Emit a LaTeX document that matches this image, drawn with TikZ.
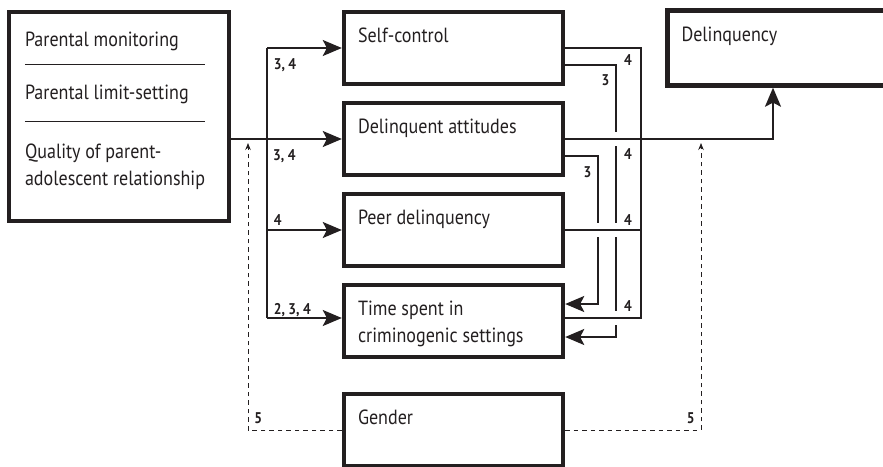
\documentclass[tikz,border=0pt]{standalone}
\usepackage{fontspec}
\setmainfont[FakeStretch=0.88]{PT Sans}
\usepackage{tikz}
\usetikzlibrary{arrows.meta, positioning}
\definecolor{ink}{HTML}{231F20}

\begin{document}
\begin{tikzpicture}[x=1pt, y=-1pt, node distance=91pt, on grid,
        >={Stealth[length=19pt, width=16pt, inset=4pt]},
        box/.style={draw=ink, line width=4.4pt, minimum width=219pt, minimum height=72pt,
            inner sep=0pt, label={[boxtext]north west:{#1}}},
        boxtext/.style={anchor=north west, align=left, inner sep=0pt, xshift=16pt, yshift=-18pt,
            text=ink, font=\fontsize{20.5}{27}\selectfont},
        link/.style={draw=ink, line width=1.7pt},
        gap/.style={draw=white, line width=4pt},
        dashlink/.style={draw=ink, line width=0.9pt, dash pattern=on 4.5pt off 4pt,
            -{Stealth[length=7pt, width=5.5pt]}},
        lab/.style={inner sep=1pt, text depth=0pt, text=ink, font=\bfseries\fontsize{15.5}{17}\selectfont},
        sepline/.style={draw=ink, line width=0.9pt}]

    \useasboundingbox (0,0) rectangle (883,466);

    % parenting block
    \node[box, minimum width=220pt, minimum height=209pt] (parent) at (119,116.5) {};
    \node[boxtext, xshift=2pt, yshift=-4pt]   (pmon) at (parent.north west) {Parental monitoring};
    \node[boxtext, xshift=2pt, yshift=-57pt]  (plim) at (parent.north west) {Parental limit-setting};
    \node[boxtext, xshift=2pt, yshift=-116pt] (qual) at (parent.north west) {Quality of parent-\\adolescent relationship};
    \draw[sepline] ([xshift=18pt, yshift=-55pt]parent.north west) -- ++(180,0);
    \draw[sepline] ([xshift=18pt, yshift=-112pt]parent.north west) -- ++(180,0);

    % mediators
    \node[box=Self-control]                           (selfc) at (453.5,48) {};
    \node[box=Delinquent attitudes, below=of selfc]   (attit) {};
    \node[box=Peer delinquency, below=of attit]       (peer)  {};
    \node[box={Time spent in\\criminogenic settings}, below=of peer] (time) {};
    \node[box=Gender, below=109pt of time]            (gender) {};
    \node[box=Delinquency, minimum width=300pt, minimum height=75pt, right=364pt of selfc] (delinq) {};

    \coordinate (trunk) at (267,0);
    \coordinate (laneA) at (641,0);
    \coordinate (laneB) at (616,0);
    \coordinate (laneC) at (598,0);
    \coordinate (rise)  at (773,0);
    \coordinate (tipL)  at (248,143);
    \coordinate (tipR)  at (701,143);

    % parenting -> mediators
    \draw[link, ->] (parent.east |- attit) -- (attit.west);
    \draw[link] (trunk |- selfc) -- ([yshift=3pt]trunk |- time);
    \draw[link, ->] (trunk |- selfc) -- (selfc.west) node[lab, pos=0, below right=9pt and 5pt] (l1) {3, 4};
    \path (trunk |- attit) node[lab, below right=9pt and 5pt] (l2) {3, 4};
    \draw[link, ->] (trunk |- peer) -- (peer.west) node[lab, pos=0, above right=2.5pt and 5pt] (l3) {4};
    \draw[link, ->] ([yshift=3pt]trunk |- time) -- ([yshift=3pt]time.west)
        node[lab, pos=0, above right=2pt and 5pt] (l4) {2, 3, 4};

    % mediators -> time spent
    \draw[link, ->] ([yshift=-17pt]selfc.east) -| ([yshift=-16pt]laneB |- time) -- ([yshift=-16pt]time.east);
    \draw[link, ->] ([yshift=-17pt]attit.east) -| ([yshift=17pt]laneC |- time) -- ([yshift=17pt]time.east);
    \foreach \lane/\row/\dy in {laneB/attit/0, laneB/peer/0, laneB/time/3, laneC/peer/0}
        \draw[gap] ([yshift=\dy pt+7pt]\lane |- \row) -- ([yshift=\dy pt-7pt]\lane |- \row);
    \draw[link, ->] (attit.east) -| (rise |- delinq.south);
    \draw[link] (peer.east) -- (laneA |- peer);
    \draw[link] (selfc.east) -| ([yshift=3pt]laneA |- time) -- ([yshift=3pt]time.east);

    \node[lab] (r1) at (628,60)     {4};
    \node[lab] (r2) at (605.5,80.5) {3};
    \node[lab] (r3) at (628,154)    {4};
    \node[lab] (r4) at (587.5,172)  {3};
    \node[lab] (r5) at (628,220)    {4};
    \node[lab] (r6) at (628,306)    {4};

    % gender
    \draw[dashlink] (gender.west) -| (tipL) node[lab, pos=0.5, above right=5pt and 5pt] (l5) {5};
    \draw[dashlink] (gender.east) -| (tipR) node[lab, pos=0.5, above left=5pt and 5pt] (l6) {5};
\end{tikzpicture}
\end{document}
